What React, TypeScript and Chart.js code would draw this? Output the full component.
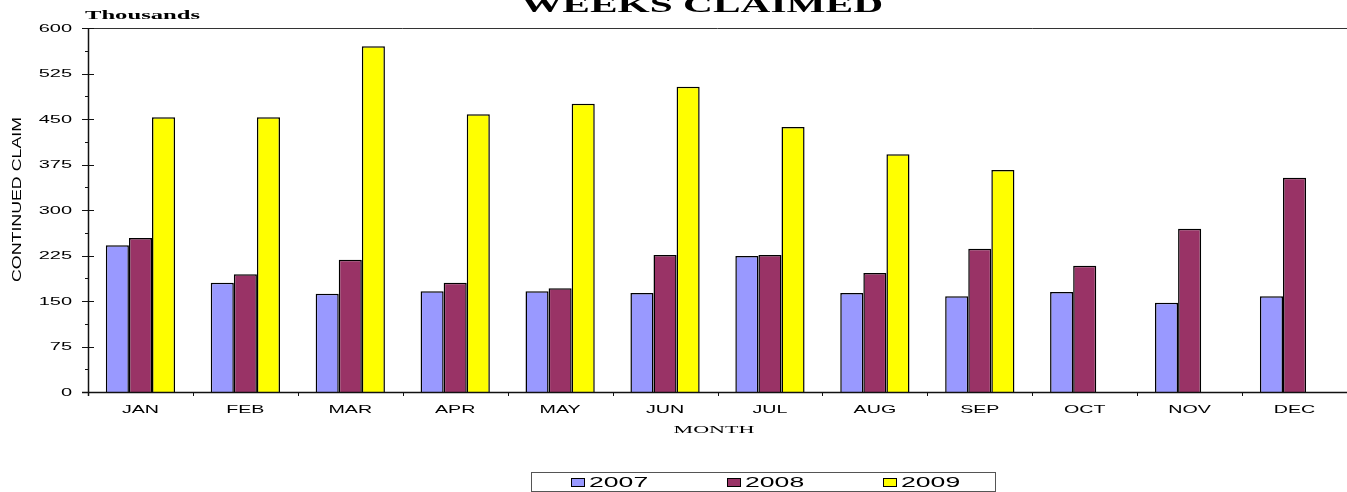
import React, { useEffect, useRef } from "react";
import { Chart, registerables } from "chart.js";

Chart.register(...registerables);

const months = ["JAN", "FEB", "MAR", "APR", "MAY", "JUN", "JUL", "AUG", "SEP", "OCT", "NOV", "DEC"];
const seriesNames = ["2007", "2008", "2009"];
const v2007 = [242, 180, 162, 166, 166, 163, 224, 163, 158, 165, 147, 158];
const v2008 = [254, 194, 218, 180, 171, 226, 226, 196, 236, 208, 269, 353];
const v2009: (number | null)[] = [453, 453, 570, 458, 475, 503, 437, 392, 366, null, null, null];
const yTicks = [0, 75, 150, 225, 300, 375, 450, 525, 600];
const colors = ["#9999FF", "#993366", "#FFFF00"];

const SANS = '"Liberation Sans", Arial, sans-serif';
const SERIF = '"Liberation Serif", "Times New Roman", serif';

function txt(
  ctx: CanvasRenderingContext2D,
  s: string,
  x: number,
  y: number,
  font: string,
  sx: number,
  align: CanvasTextAlign,
  targetW?: number
) {
  ctx.save();
  ctx.font = font;
  let scale = sx;
  if (targetW) scale = targetW / ctx.measureText(s).width;
  ctx.translate(x, y);
  ctx.scale(scale, 1);
  ctx.textAlign = align;
  ctx.textBaseline = "alphabetic";
  ctx.fillStyle = "#000";
  ctx.fillText(s, 0, 0);
  ctx.restore();
}

const decor = {
  id: "decor",
  afterDraw(chart: any) {
    const ctx: CanvasRenderingContext2D = chart.ctx;
    const { left, right, top, bottom } = chart.chartArea;
    const xs = chart.scales.x;
    const ys = chart.scales.y;
    ctx.save();
    // top line
    ctx.strokeStyle = "#333";
    ctx.lineWidth = 1;
    ctx.beginPath();
    ctx.moveTo(left, top + 0.5);
    ctx.lineTo(right, top + 0.5);
    ctx.stroke();
    // axes
    ctx.strokeStyle = "#111";
    ctx.lineWidth = 1.5;
    ctx.beginPath();
    ctx.moveTo(left + 0.5, top);
    ctx.lineTo(left + 0.5, bottom + 4);
    ctx.moveTo(left - 6, bottom + 0.5);
    ctx.lineTo(right, bottom + 0.5);
    ctx.stroke();
    // y ticks major/minor
    ctx.lineWidth = 1;
    ctx.beginPath();
    for (let i = 0; i < yTicks.length; i++) {
      const y = Math.round(ys.getPixelForValue(yTicks[i])) + 0.5;
      ctx.moveTo(left - 6, y);
      ctx.lineTo(left + 6, y);
      if (i < yTicks.length - 1) {
        const ym = Math.round(ys.getPixelForValue((yTicks[i] + yTicks[i + 1]) / 2)) + 0.5;
        ctx.moveTo(left - 3, ym);
        ctx.lineTo(left, ym);
      }
    }
    // x ticks at category boundaries
    const cw = (right - left) / months.length;
    for (let i = 1; i <= months.length; i++) {
      const x = Math.round(left + i * cw) + 0.5;
      ctx.moveTo(x, bottom);
      ctx.lineTo(x, bottom + 4);
    }
    ctx.stroke();
    // y tick labels
    for (const v of yTicks) {
      const y = ys.getPixelForValue(v);
      txt(ctx, String(v), 72, y + 3.5, `10px ${SANS}`, 2.0, "right");
    }
    // x labels
    months.forEach((m, i) => {
      const x = xs.getPixelForValue(i);
      txt(ctx, m, x, 413, `10.5px ${SANS}`, 1.87, "center");
    });
    // x axis title
    txt(ctx, "MONTH", 714, 433, `10px ${SERIF}`, 1, "center", 81);
    // Thousands
    txt(ctx, "Thousands", 85, 19, `bold 13.5px ${SERIF}`, 1, "left", 115);
    // title
    txt(ctx, "WEEKS CLAIMED", 702, 12, `bold 23px ${SERIF}`, 1, "center", 362);
    // rotated y label, clipped
    ctx.save();
    ctx.beginPath();
    ctx.rect(0, 117, 40, 200);
    ctx.clip();
    ctx.translate(21, 282);
    ctx.rotate(-Math.PI / 2);
    ctx.font = `12.5px ${SANS}`;
    const w = ctx.measureText("CONTINUED CLAIM").width;
    ctx.scale(165 / w, 1);
    ctx.fillStyle = "#000";
    ctx.textAlign = "left";
    ctx.fillText("CONTINUED CLAIMS", 0, 0);
    ctx.restore();
    // legend
    ctx.strokeStyle = "#555";
    ctx.lineWidth = 1;
    ctx.strokeRect(531.5, 472.5, 464, 19);
    const lx = [571, 727, 883];
    seriesNames.forEach((s, i) => {
      ctx.fillStyle = colors[i];
      ctx.fillRect(lx[i], 478, 13, 8);
      ctx.strokeStyle = "#000";
      ctx.strokeRect(lx[i] + 0.5, 478.5, 13, 8);
      txt(ctx, s, lx[i] + 18, 487, `14px ${SANS}`, 1.9, "left");
    });
    ctx.restore();
  },
};

export default function App() {
  const ref = useRef<HTMLCanvasElement>(null);
  useEffect(() => {
    if (!ref.current) return;
    const chart = new Chart(ref.current, {
      type: "bar",
      data: {
        labels: months,
        datasets: [v2007, v2008, v2009].map((d, i) => ({
          label: seriesNames[i],
          data: d as any,
          backgroundColor: colors[i],
          borderColor: "#000",
          borderWidth: 1.5,
          categoryPercentage: 0.66,
          barPercentage: 1,
        })),
      },
      options: {
        responsive: false,
        animation: false,
        layout: { padding: { top: 28, right: 0, left: 0, bottom: 0 } },
        plugins: { legend: { display: false }, title: { display: false }, tooltip: { enabled: false } },
        scales: {
          x: {
            grid: { display: false },
            border: { display: false },
            ticks: { display: false },
            afterFit: (s: any) => {
              s.height = 100;
            },
          },
          y: {
            min: 0,
            max: 600,
            grid: { display: false },
            border: { display: false },
            ticks: { display: false, stepSize: 75 },
            afterFit: (s: any) => {
              s.width = 88;
            },
          },
        },
      },
      plugins: [decor],
    });
    return () => chart.destroy();
  }, []);
  return (
    <div style={{ position: "absolute", left: 0, top: 0, width: 1347, height: 492, background: "#fff" }}>
      <canvas ref={ref} width={1347} height={492} style={{ display: "block" }} />
    </div>
  );
}
